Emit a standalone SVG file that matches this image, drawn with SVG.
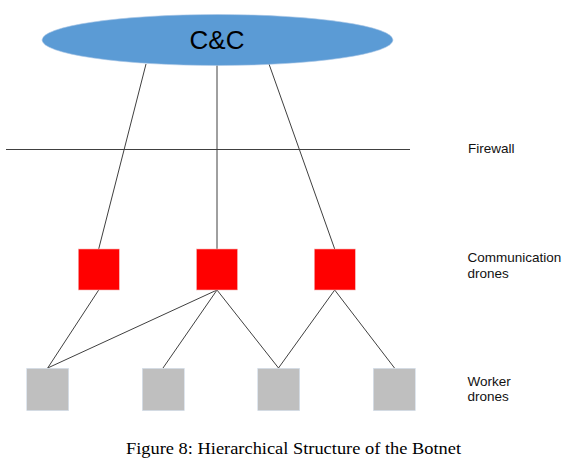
<svg xmlns="http://www.w3.org/2000/svg" width="576" height="471" viewBox="0 0 576 471">
<style>
.conn line{stroke:#404040;stroke-width:1;fill:none}
.red{fill:#FF0000;stroke:#F4B6B6;stroke-width:0.6}
.gray{fill:#BFBFBF;stroke:#D6E2EE;stroke-width:0.6}
.lbl{font-family:"Liberation Sans",Arial,sans-serif;font-size:13.5px;fill:#111}
</style>
<rect width="576" height="471" fill="#FFFFFF"/>
<g id="connectors" class="conn">
<line x1="6" y1="149.5" x2="410" y2="149.5"/>
<line x1="146" y1="64" x2="98.7" y2="249"/>
<line x1="217" y1="64" x2="217" y2="249"/>
<line x1="269" y1="64" x2="334.7" y2="249"/>
<line x1="98.7" y1="290" x2="47.7" y2="368"/>
<line x1="217" y1="290" x2="47.7" y2="368"/>
<line x1="217" y1="290" x2="163" y2="368"/>
<line x1="217" y1="290" x2="278.5" y2="368"/>
<line x1="334.7" y1="290" x2="278.5" y2="368"/>
<line x1="334.7" y1="290" x2="394.5" y2="368"/>
</g>
<g id="cc">
<ellipse cx="217.5" cy="40" rx="175.5" ry="25.5" fill="#5B9BD5" stroke="#A9C6E6" stroke-width="0.6"/>
<text x="217" y="48.5" text-anchor="middle" font-family="'Liberation Sans',Arial,sans-serif" font-size="26" fill="#000">C&amp;C</text>
</g>
<g id="comm1"><rect class="red" x="78.3" y="249" width="41" height="41"/></g>
<g id="comm2"><rect class="red" x="196.5" y="249" width="41" height="41"/></g>
<g id="comm3"><rect class="red" x="314.3" y="249" width="41" height="41"/></g>
<g id="worker1"><rect class="gray" x="26.7" y="368.3" width="42" height="42.4"/></g>
<g id="worker2"><rect class="gray" x="142.3" y="368.3" width="42" height="42.4"/></g>
<g id="worker3"><rect class="gray" x="257.7" y="368.3" width="42" height="42.4"/></g>
<g id="worker4"><rect class="gray" x="373.3" y="368.3" width="42" height="42.4"/></g>
<g id="labels">
<text class="lbl" x="468" y="153">Firewall</text>
<text class="lbl" x="467.5" y="261.5">Communication</text>
<text class="lbl" x="467.5" y="277.5">drones</text>
<text class="lbl" x="467.5" y="386">Worker</text>
<text class="lbl" x="467.5" y="401">drones</text>
</g>
<text id="caption" x="126" y="454" font-family="'Liberation Serif','Times New Roman',serif" font-size="17" fill="#000" textLength="335" lengthAdjust="spacingAndGlyphs">Figure 8: Hierarchical Structure of the Botnet</text>
</svg>
